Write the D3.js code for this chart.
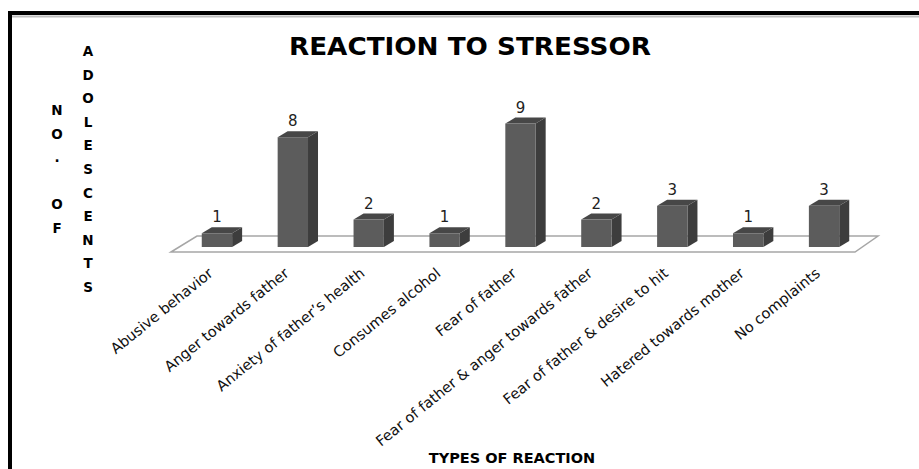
<!DOCTYPE html>
<html>
<head>
<meta charset="utf-8">
<script src="https://cdn.jsdelivr.net/npm/d3@7"></script>
<style>
  body { margin: 0; background: #fff; }
  svg { display: block; font-family: "DejaVu Sans", sans-serif; }
</style>
</head>
<body>
<div id="chart"></div>
<script>
// data
var categories = ["Abusive behavior", "Anger towards father", "Anxiety of father\u2019s health",
    "Consumes alcohol", "Fear of father", "Fear of father & anger towards father",
    "Fear of father & desire to hit", "Hatered towards mother", "No complaints"];
var counts = [1, 8, 2, 1, 9, 2, 3, 1, 3];
var yLetters1 = ["N", "O", ".", "", "O", "F"];
var yLetters2 = ["A", "D", "O", "L", "E", "S", "C", "E", "N", "T", "S"];

function drawChart() {
    let W = 919, H = 469;

    let svg = d3.select("#chart")
        .append("svg")
        .attr("width", W)
        .attr("height", H);

    // frame (top + left only, as in the picture)
    svg.append("line").attr("x1", 10).attr("x2", W).attr("y1", 16.5).attr("y2", 16.5)
        .attr("stroke", "#bdbdbd").attr("stroke-width", 2);
    svg.append("line").attr("x1", 8).attr("x2", W).attr("y1", 13).attr("y2", 13)
        .attr("stroke", "#000").attr("stroke-width", 4);
    svg.append("line").attr("x1", 10).attr("x2", 10).attr("y1", 11).attr("y2", H)
        .attr("stroke", "#000").attr("stroke-width", 4);

    // title
    svg.append("text")
        .attr("x", 470).attr("y", 55)
        .attr("text-anchor", "middle")
        .attr("font-size", 24).attr("font-weight", "bold")
        .attr("textLength", 362).attr("lengthAdjust", "spacingAndGlyphs")
        .attr("fill", "#000")
        .text("REACTION TO STRESSOR");

    // scales
    let x = d3.scaleBand().domain(categories).range([179, 862]).padding(0);
    let barW = x.bandwidth() * 0.4;
    let y = d3.scaleLinear().domain([0, 9]).range([247, 123.5]);
    let dx = 10, dy = -6;

    // floor
    let floor = [[171, 252], [197, 236], [878, 236], [855, 252]];
    svg.append("polygon")
        .attr("points", floor.map(p => p.join(",")).join(" "))
        .attr("fill", "#fff")
        .attr("stroke", "#a6a6a6")
        .attr("stroke-width", 1.5);

    let bars = svg.selectAll(".bar")
        .data(categories.map((c, i) => ({cat: c, val: counts[i]})))
        .join("g")
        .attr("class", "bar");

    function bx(d) { return x(d.cat) + (x.bandwidth() - barW) / 2; }

    // side face
    bars.append("polygon")
        .attr("points", d => {
            let x1 = bx(d) + barW, t = y(d.val), b = y(0);
            return [[x1, b], [x1, t], [x1 + dx, t + dy], [x1 + dx, b + dy]].map(p => p.join(",")).join(" ");
        })
        .attr("fill", "#3d3d3d");

    // top face
    bars.append("polygon")
        .attr("points", d => {
            let x0 = bx(d), t = y(d.val);
            return [[x0, t], [x0 + dx, t + dy], [x0 + barW + dx, t + dy], [x0 + barW, t]].map(p => p.join(",")).join(" ");
        })
        .attr("fill", "#474747");

    // front face
    bars.append("rect")
        .attr("x", d => bx(d))
        .attr("y", d => y(d.val))
        .attr("width", barW)
        .attr("height", d => y(0) - y(d.val))
        .attr("fill", "#5c5c5c");

    // value labels
    bars.append("text")
        .attr("x", d => bx(d) + barW / 2)
        .attr("y", d => y(d.val) + dy - 5)
        .attr("text-anchor", "middle")
        .attr("font-size", 15)
        .attr("fill", "#222")
        .text(d => d.val);

    // category labels
    svg.selectAll(".xlab")
        .data(categories)
        .join("text")
        .attr("class", "xlab")
        .attr("transform", d => "translate(" + (x(d) + x.bandwidth() / 2 - 3) + ",275) rotate(-39)")
        .attr("text-anchor", "end")
        .attr("font-size", 14.6)
        .attr("fill", "#111")
        .text(d => d);

    // axis titles
    svg.append("text")
        .attr("x", 512).attr("y", 463)
        .attr("text-anchor", "middle")
        .attr("font-size", 14.5).attr("font-weight", "bold")
        .text("TYPES OF REACTION");

    svg.selectAll(".yl1")
        .data(yLetters1)
        .join("text")
        .attr("class", "yl1")
        .attr("x", 57)
        .attr("y", (d, i) => 115 + i * 23.6)
        .attr("text-anchor", "middle")
        .attr("font-size", 13.5).attr("font-weight", "bold")
        .text(d => d);

    svg.selectAll(".yl2")
        .data(yLetters2)
        .join("text")
        .attr("class", "yl2")
        .attr("x", 88)
        .attr("y", (d, i) => 56 + i * 23.6)
        .attr("text-anchor", "middle")
        .attr("font-size", 13.5).attr("font-weight", "bold")
        .text(d => d);
}

drawChart();
</script>
</body>
</html>
